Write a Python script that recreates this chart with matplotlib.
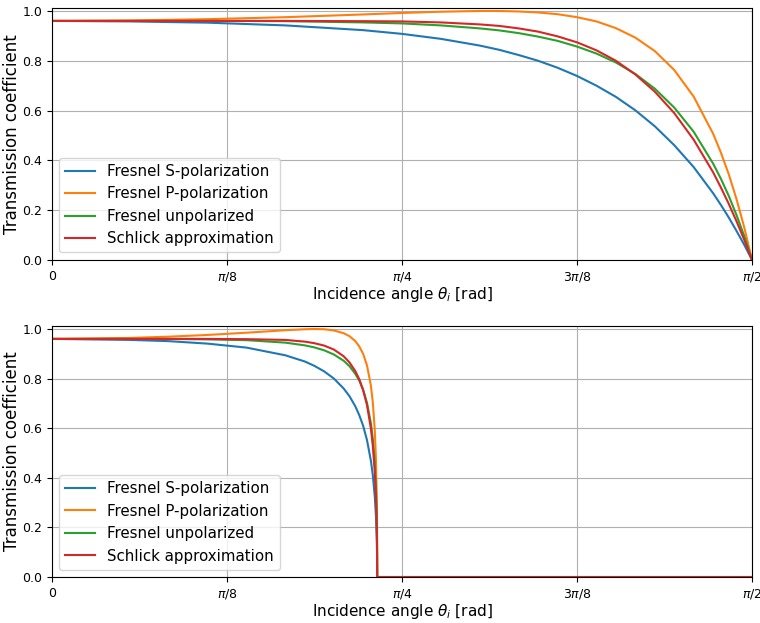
import numpy as np
import matplotlib
matplotlib.use("Agg")
import matplotlib.pyplot as plt

# top: air -> glass, angles in degrees
angles_top = [0, 10, 20, 30, 40, 45, 50, 55, 57.5, 60, 62.5, 65, 67.5, 70, 72.5, 75, 77.5,
              80, 82.5, 85, 86, 87, 88, 89, 90]
s_top = [0.960, 0.958, 0.953, 0.942, 0.923, 0.908, 0.888, 0.861, 0.844, 0.823, 0.800, 0.772,
         0.739, 0.700, 0.655, 0.601, 0.537, 0.461, 0.373, 0.268, 0.221, 0.171, 0.117, 0.061, 0.0]
p_top = [0.960, 0.962, 0.967, 0.975, 0.986, 0.992, 0.997, 1.000, 1.000, 0.998, 0.994, 0.987,
         0.975, 0.958, 0.931, 0.893, 0.839, 0.763, 0.656, 0.507, 0.431, 0.345, 0.245, 0.131, 0.0]
unpol_top = [0.960, 0.960, 0.960, 0.959, 0.954, 0.950, 0.942, 0.930, 0.922, 0.911, 0.897, 0.880,
             0.857, 0.829, 0.793, 0.747, 0.688, 0.612, 0.515, 0.387, 0.326, 0.258, 0.181, 0.096, 0.0]
schlick_top = [0.960, 0.960, 0.960, 0.960, 0.959, 0.958, 0.954, 0.946, 0.940, 0.930, 0.917, 0.898,
               0.874, 0.842, 0.800, 0.745, 0.676, 0.590, 0.483, 0.352, 0.291, 0.226, 0.156, 0.081, 0.0]

# bottom: glass -> air, total internal reflection past ~41.8 deg
angles_bot = [0, 10, 15, 20, 25, 30, 32.5, 33.7, 35, 36.25, 37.5, 38.25, 39, 39.5, 40, 40.5,
              41, 41.25, 41.5, 41.65, 41.75, 41.79, 41.81, 90]
s_bot = [0.960, 0.956, 0.951, 0.941, 0.925, 0.894, 0.869, 0.852, 0.829, 0.800, 0.760, 0.729,
         0.688, 0.653, 0.610, 0.552, 0.469, 0.410, 0.325, 0.246, 0.160, 0.096, 0.0, 0.0]
p_bot = [0.960, 0.964, 0.969, 0.976, 0.985, 0.995, 0.999, 1.000, 0.999, 0.994, 0.983, 0.971,
         0.951, 0.930, 0.900, 0.853, 0.772, 0.703, 0.592, 0.473, 0.324, 0.204, 0.0, 0.0]
unpol_bot = [0.960, 0.960, 0.960, 0.958, 0.955, 0.945, 0.934, 0.926, 0.914, 0.897, 0.872, 0.850,
             0.819, 0.792, 0.755, 0.702, 0.620, 0.556, 0.458, 0.360, 0.242, 0.150, 0.0, 0.0]
schlick_bot = [0.960, 0.960, 0.960, 0.960, 0.959, 0.956, 0.949, 0.943, 0.933, 0.917, 0.890, 0.865,
               0.830, 0.798, 0.754, 0.693, 0.599, 0.528, 0.424, 0.324, 0.212, 0.128, 0.0, 0.0]

labels = ["Fresnel S-polarization", "Fresnel P-polarization", "Fresnel unpolarized", "Schlick approximation"]
xticks = [0, np.pi / 8, np.pi / 4, 3 * np.pi / 8, np.pi / 2]
xticklabels = ["0", r"$\pi/8$", r"$\pi/4$", r"$3\pi/8$", r"$\pi/2$"]

fig = plt.figure(figsize=(7.6, 6.23), dpi=100)
ax1 = fig.add_axes([0.0684, 0.5827, 0.9211, 0.4045])
ax2 = fig.add_axes([0.0684, 0.0738, 0.9211, 0.4029])

panels = [
    (ax1, angles_top, [s_top, p_top, unpol_top, schlick_top]),
    (ax2, angles_bot, [s_bot, p_bot, unpol_bot, schlick_bot]),
]

for ax, angles, series in panels:
    theta = np.deg2rad(angles)
    for vals, lab in zip(series, labels):
        ax.plot(theta, vals, label=lab, linewidth=1.5)
    ax.set_xlim(0, np.pi / 2)
    ax.set_ylim(0, 1.012)
    ax.set_xticks(xticks)
    ax.set_xticklabels(xticklabels)
    ax.set_yticks([0.0, 0.2, 0.4, 0.6, 0.8, 1.0])
    ax.tick_params(labelsize=9)
    ax.set_xlabel(r"Incidence angle $\theta_i$ [rad]", fontsize=11, labelpad=1)
    ax.set_ylabel("Transmission coefficient", fontsize=12, labelpad=1)
    ax.grid(True)
    ax.legend(loc="lower left", fontsize=10.8)

plt.savefig("out.png")
